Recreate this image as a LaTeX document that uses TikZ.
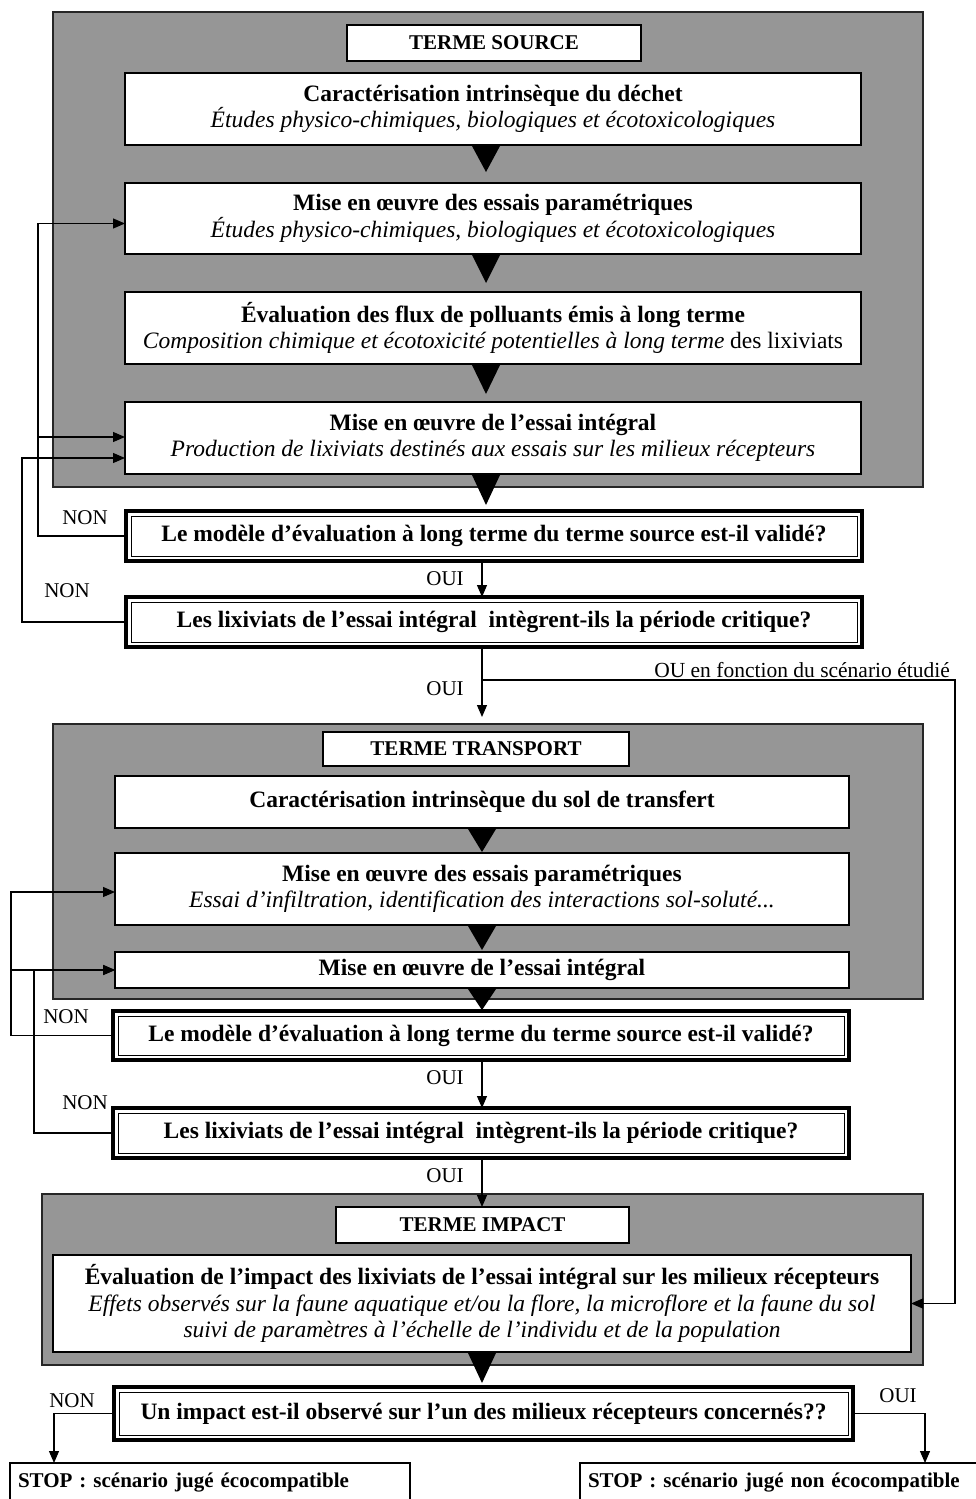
\documentclass[tikz,border=0pt]{standalone}
\usepackage{fontspec}
\setmainfont{Liberation Serif}
\usetikzlibrary{arrows.meta,calc}
\definecolor{zonegray}{RGB}{150,150,150}

\newcommand\boxfont{\fontsize{23.5}{26.5}\selectfont}
\newcommand\labfont{\fontsize{21}{24}\selectfont}
% solid triangle pointing from the bottom of one box towards the top of the next
\newcommand\flowtri[4]{\fill ($(#1.south -| #3)+(-14,1)$) -- ($(#1.south -| #3)+(14,1)$) -- ($(#2.north -| #3)+(0,-#4)$) -- cycle;}
% thin inner line of the double-framed question boxes
\newcommand\innerframe[1]{\draw[line width=1pt] ([xshift=5pt,yshift=-5pt]#1.north west) rectangle ([xshift=-5pt,yshift=5pt]#1.south east);}

\begin{document}
\begin{tikzpicture}[x=1pt,y=-1pt,
  zone/.style={draw=black!85, line width=1.5pt, fill=zonegray, inner sep=0pt, outer sep=0pt},
  wbox/.style={draw=black, line width=1.3pt, fill=white, inner sep=0pt, outer sep=0pt, align=center, font=\boxfont},
  titlebox/.style={wbox, font=\fontsize{21}{24}\selectfont\bfseries},
  decision/.style={draw=black, line width=4pt, fill=white, inner sep=0pt, outer sep=0pt, align=center, font=\boxfont\bfseries},
  stopbox/.style={draw=black, line width=1.3pt, fill=white, inner ysep=0pt, inner xsep=8pt, outer sep=0pt, text width=384pt, align=left, font=\fontsize{21}{24}\selectfont\bfseries},
  lab/.style={font=\labfont, inner sep=0pt},
  link/.style={draw=black, line width=1.2pt},
  arr/.style={link, -{Triangle[length=12pt,width=10pt]}}
]
\useasboundingbox (0,0) rectangle (976,1499);

% ---------- TERME SOURCE ----------
\node[zone, minimum width=870, minimum height=475] (z1) at (488,249.5) {};
\node[titlebox, minimum width=294, minimum height=36] (ts) at (494,43) {TERME SOURCE};
\node[wbox, minimum width=736, minimum height=72] (s1) at (493,109)
  {\textbf{Caractérisation intrinsèque du déchet}\\\textit{Études physico-chimiques, biologiques et écotoxicologiques}};
\node[wbox, minimum width=736, minimum height=71] (s2) at (493,218.5)
  {\textbf{Mise en œuvre des essais paramétriques}\\\textit{Études physico-chimiques, biologiques et écotoxicologiques}};
\node[wbox, minimum width=736, minimum height=72] (s3) at (493,328)
  {\textbf{Évaluation des flux de polluants émis à long terme}\\\textit{Composition chimique et écotoxicité potentielles à long terme} des lixiviats};
\node[wbox, minimum width=736, minimum height=72] (s4) at (493,438)
  {\textbf{Mise en œuvre de l’essai intégral}\\\textit{Production de lixiviats destinés aux essais sur les milieux récepteurs}};

\node[decision, minimum width=736, minimum height=50] (d1) at (494,536)
  {Le modèle d’évaluation à long terme du terme source est-il validé?};
\innerframe{d1}
\node[decision, minimum width=736, minimum height=50] (d2) at (494,622)
  {Les lixiviats de l’essai intégral\ \ intègrent-ils la période critique?};
\innerframe{d2}

\coordinate (ax1) at (486,0);
\coordinate (ax2) at (482,0);
\flowtri{s1}{s2}{ax1}{11}
\flowtri{s2}{s3}{ax1}{9}
\flowtri{s3}{s4}{ax1}{8}
\flowtri{s4}{d1}{ax1}{6}

\draw[arr] (d1.south -| ax2) -- (d2.north -| ax2);
\node[lab] (oui1) at (445,579) {OUI};

% loops back from the two questions
\coordinate (fb1) at (38,0);
\coordinate (fb2) at (22,0);
\draw[arr] (d1.west) -- (d1.west -| fb1) -- ($(s2.west -| fb1)+(0,5)$) -- ($(s2.west)+(0,5)$);
\draw[arr] ($(s4.west -| fb1)+(0,-1)$) -- ($(s4.west)+(0,-1)$);
\draw[arr] (d2.west) -- (d2.west -| fb2) -- ($(s4.west -| fb2)+(0,20)$) -- ($(s4.west)+(0,20)$);
\node[lab] (non1) at (85,518) {NON};
\node[lab] (non2) at (67,591) {NON};

% ---------- TERME TRANSPORT ----------
\node[zone, minimum width=870, minimum height=275] (z2) at (488,861.5) {};
\node[titlebox, minimum width=306, minimum height=34] (tt) at (476,749) {TERME TRANSPORT};
\node[wbox, minimum width=734, minimum height=52] (t1) at (482,802)
  {\textbf{Caractérisation intrinsèque du sol de transfert}};
\node[wbox, minimum width=734, minimum height=72] (t2) at (482,889)
  {\textbf{Mise en œuvre des essais paramétriques}\\\textit{Essai d’infiltration, identification des interactions sol-soluté...}};
\node[wbox, minimum width=734, minimum height=36] (t3) at (482,970)
  {\textbf{Mise en œuvre de l’essai intégral}};

\node[decision, minimum width=736, minimum height=49] (d3) at (481,1035.5)
  {Le modèle d’évaluation à long terme du terme source est-il validé?};
\innerframe{d3}
\node[decision, minimum width=736, minimum height=50] (d4) at (481,1133)
  {Les lixiviats de l’essai intégral\ \ intègrent-ils la période critique?};
\innerframe{d4}

\flowtri{t1}{t2}{ax2}{1}
\flowtri{t2}{t3}{ax2}{2}
\flowtri{t3}{d3}{ax2}{1}

% from the second question down to the transport stage, with the side branch to the impact stage
\draw[arr] (d2.south -| ax2) -- ($(z2.north -| ax2)+(0,-7)$);
\node[lab] (oui2) at (445,689) {OUI};
\coordinate (br) at (482,680);
\coordinate (rx) at (955,0);
\node[lab, anchor=base east, font=\fontsize{21.5}{24}\selectfont] (ou) at (950,677) {OU en fonction du scénario étudié};

\draw[arr] (d3.south -| ax2) -- (d4.north -| ax2);
\node[lab] (oui3) at (445,1078) {OUI};

\coordinate (fb3) at (11,0);
\coordinate (fb4) at (34,0);
\draw[arr] (d3.west) -- (d3.west -| fb3) -- ($(t2.west -| fb3)+(0,3)$) -- ($(t2.west)+(0,3)$);
\draw[arr] (t3.west -| fb3) -- (t3.west);
\draw[arr] (d4.west) -- (d4.west -| fb4) -- (t3.west -| fb4) -- (t3.west);
\node[lab] (non3) at (66,1017) {NON};
\node[lab] (non4) at (85,1103) {NON};

% ---------- TERME IMPACT ----------
\node[zone, minimum width=881, minimum height=171] (z3) at (482.5,1279.5) {};
\node[titlebox, minimum width=293, minimum height=36] (ti) at (482.5,1225) {TERME IMPACT};
\node[wbox, minimum width=858, minimum height=97] (imp) at (482,1303.5)
  {\textbf{Évaluation de l’impact des lixiviats de l’essai intégral sur les milieux récepteurs}\\
   \textit{Effets observés sur la faune aquatique et/ou la flore, la microflore et la faune du sol}\\
   \textit{suivi de paramètres à l’échelle de l’individu et de la population}};

\draw[arr] (d4.south -| ax2) -- (ti.north -| ax2);
\node[lab] (oui4) at (445,1176) {OUI};
\draw[arr] (br) -- (br -| rx) -- (imp.east -| rx) -- (imp.east);

\node[decision, minimum width=739, minimum height=53] (d5) at (483.5,1413.5)
  {Un impact est-il observé sur l’un des milieux récepteurs concernés??};
\innerframe{d5}
\flowtri{imp}{d5}{ax2}{4}

\node[stopbox, minimum height=39] (stopL) at (210,1482.5) {STOP : scénario jugé écocompatible};
\node[stopbox, minimum height=39] (stopR) at (780,1482.5) {STOP : scénario jugé non écocompatible};

\coordinate (lx) at (54,0);
\coordinate (rx2) at (925,0);
\draw[arr] (d5.west) -- (d5.west -| lx) -- (stopL.north -| lx);
\draw[arr] (d5.east) -- (d5.east -| rx2) -- (stopR.north -| rx2);
\node[lab] (non5) at (72,1401) {NON};
\node[lab] (oui5) at (898,1396) {OUI};

\end{tikzpicture}
\end{document}
